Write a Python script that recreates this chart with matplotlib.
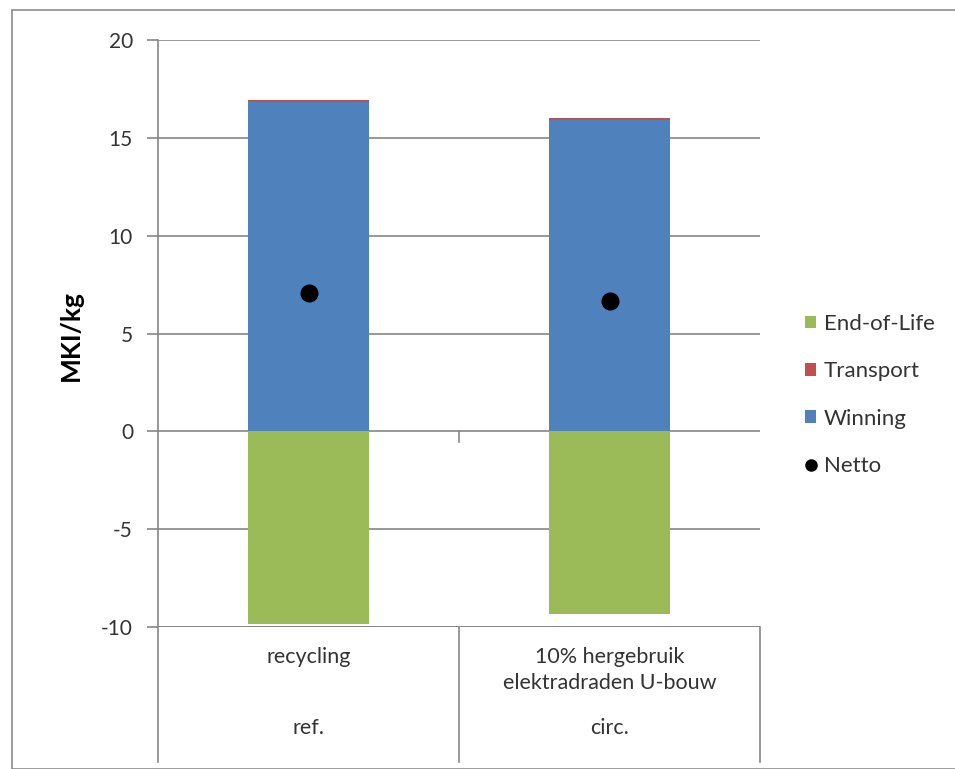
import matplotlib
matplotlib.use("Agg")
import matplotlib.pyplot as plt
from matplotlib.patches import Patch, Rectangle
from matplotlib.lines import Line2D

# --- data ---
categories = ["recycling", "10% hergebruik\nelektradraden U-bouw"]
groups = ["ref.", "circ."]
end_of_life = [-9.87, -9.36]
transport = [0.11, 0.10]
winning = [16.81, 15.93]
netto = [7.05, 6.67]
yticks = [-10, -5, 0, 5, 10, 15, 20]

C_EOL = "#9BBB59"
C_TRANS = "#C0504D"
C_WIN = "#4F81BD"
GRID = "#868686"
TXT = "#333333"

plt.rcParams["font.family"] = ["Lato", "DejaVu Sans"]

W, H = 955, 769
fig = plt.figure(figsize=(W / 100, H / 100), dpi=100)

# outer chart frame
fig.patches.append(Rectangle((12 / W, 0), 1.2, 1 - 10 / H, transform=fig.transFigure,
                             fill=False, edgecolor="#8c8c8c", linewidth=1.2))

left, right, top, bottom = 158, 760, 40, 627
ax = fig.add_axes([left / W, 1 - bottom / H, (right - left) / W, (bottom - top) / H])

x = [0.5, 1.5]
bw = 0.4
ax.bar(x, winning, bw, color=C_WIN, zorder=3)
ax.bar(x, transport, bw, bottom=winning, color=C_TRANS, zorder=3)
ax.bar(x, end_of_life, bw, color=C_EOL, zorder=3)
ax.plot(x, netto, "o", color="black", markersize=12, zorder=4)

ax.set_xlim(0, 2)
ax.set_ylim(-10, 20)
ax.set_yticks(yticks)
ax.set_yticklabels([str(v) for v in yticks], fontsize=15, color=TXT)
ax.tick_params(axis="y", length=8, color=GRID, width=1.2, pad=10)
ax.set_xticks([])
ax.grid(axis="y", color=GRID, linewidth=1.2, zorder=0)
for s in ["top", "right", "bottom"]:
    ax.spines[s].set_visible(False)
ax.spines["left"].set_color(GRID)
ax.spines["left"].set_linewidth(1.2)
ax.axhline(-10, color=GRID, linewidth=1.4, zorder=2)

# category axis: dividers extending below the plot, tick on the zero line
ext = -(762 - bottom) / (bottom - top)
for xd in [0, 1, 2]:
    ax.plot([xd, xd], [0, ext], transform=ax.get_xaxis_transform(), color=GRID,
            linewidth=1.2, clip_on=False, zorder=2)
tick_len = 11 / (bottom - top) * 30
ax.plot([1, 1], [0, -tick_len], color=GRID, linewidth=1.2, zorder=2, clip_on=False)

def ypix(p):
    return -(p - bottom) / (bottom - top)

for xi, cat, grp in zip(x, categories, groups):
    ax.text(xi, ypix(647), cat, transform=ax.get_xaxis_transform(), ha="center",
            va="top", fontsize=15.5, color=TXT, linespacing=1.35)
    ax.text(xi, ypix(728), grp, transform=ax.get_xaxis_transform(), ha="center",
            va="center", fontsize=15.5, color=TXT)

fig.text(71 / W, 1 - 336 / H, "MKI/kg", rotation=90, ha="center", va="center",
         fontsize=19, fontweight="bold", color="black")

handles = [Patch(facecolor=C_EOL), Patch(facecolor=C_TRANS), Patch(facecolor=C_WIN),
           Line2D([], [], marker="o", color="black", linestyle="none", markersize=8)]
labels = ["End-of-Life", "Transport", "Winning", "Netto"]
fig.legend(handles, labels, loc="upper left", bbox_to_anchor=(785 / W, 1 - 294 / H),
           frameon=False, fontsize=16, handlelength=0.5, handleheight=0.5,
           handletextpad=0.36, labelspacing=1.23, labelcolor=TXT)

fig.savefig("out.png", dpi=100)
